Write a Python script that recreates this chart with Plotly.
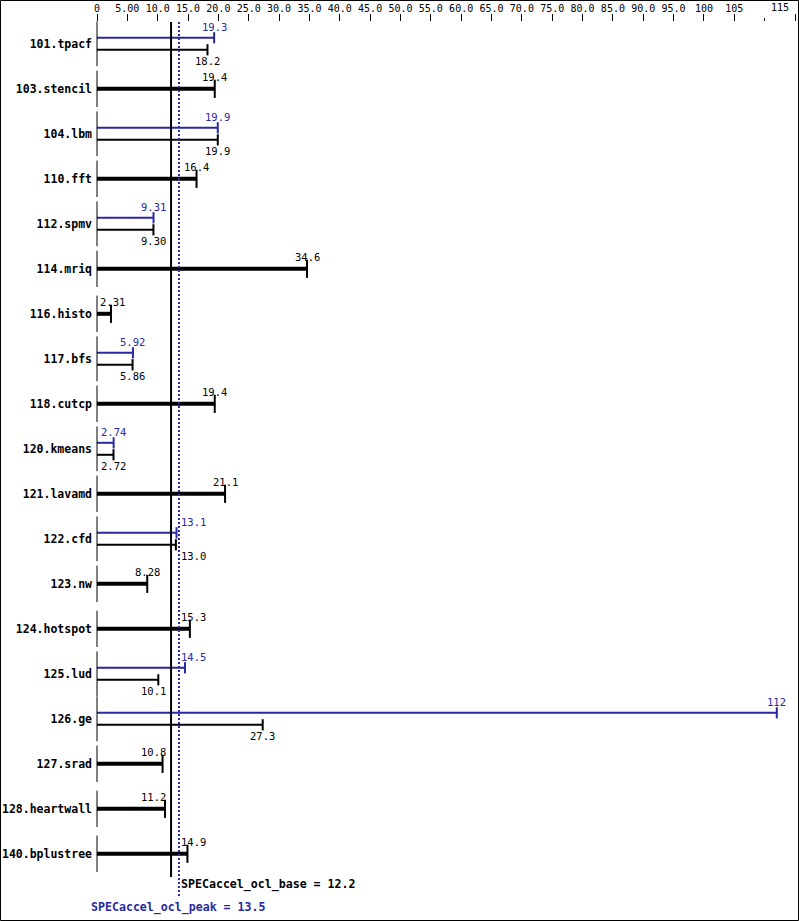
import plotly.graph_objects as go

# ---------------- data ----------------
benchmarks = ["101.tpacf", "103.stencil", "104.lbm", "110.fft", "112.spmv", "114.mriq",
              "116.histo", "117.bfs", "118.cutcp", "120.kmeans", "121.lavamd", "122.cfd",
              "123.nw", "124.hotspot", "125.lud", "126.ge", "127.srad", "128.heartwall",
              "140.bplustree"]
base_scores = [18.2, 19.4, 19.9, 16.4, 9.30, 34.6, 2.31, 5.86, 19.4, 2.72, 21.1, 13.0,
               8.28, 15.3, 10.1, 27.3, 10.8, 11.2, 14.9]
base_labels = ["18.2", "19.4", "19.9", "16.4", "9.30", "34.6", "2.31", "5.86", "19.4", "2.72",
               "21.1", "13.0", "8.28", "15.3", "10.1", "27.3", "10.8", "11.2", "14.9"]
peak_scores = [19.3, None, 19.9, None, 9.31, None, None, 5.92, None, 2.74, None, 13.1,
               None, None, 14.5, 112, None, None, None]
peak_labels = ["19.3", None, "19.9", None, "9.31", None, None, "5.92", None, "2.74", None,
               "13.1", None, None, "14.5", "112", None, None, None]
base_overall = 12.2
peak_overall = 13.5
base_overall_text = "SPECaccel_ocl_base = 12.2"
peak_overall_text = "SPECaccel_ocl_peak = 13.5"
tick_values = [0, 5, 10, 15, 20, 25, 30, 35, 40, 45, 50, 55, 60, 65, 70, 75, 80, 85,
               90, 95, 100, 105, 115]
tick_labels = ["0", "5.00", "10.0", "15.0", "20.0", "25.0", "30.0", "35.0", "40.0", "45.0",
               "50.0", "55.0", "60.0", "65.0", "70.0", "75.0", "80.0", "85.0", "90.0",
               "95.0", "100", "105", "115"]
minor_tick_values = [110]

# ---------------- layout constants ----------------
BLUE = "#2828a0"
BLACK = "#000000"
MONO = "DejaVu Sans Mono"
W, H = 799, 921
ML, MR, MT, MB = 97, 4, 22, 0
plot_w = W - ML - MR
plot_h = H - MT - MB
X_MAX = 115
px_per_unit = plot_w / X_MAX
ROW_PX = 45.0
FIRST_ROW_PX = 43.8           # pixel centre of first row from figure top
y_top = (MT - FIRST_ROW_PX) / ROW_PX
y_bot = (H - FIRST_ROW_PX) / ROW_PX
OFF = 6.0 / ROW_PX            # offset of peak/base bars in a two-bar row
THIN = 2.0 / ROW_PX
THICK = 4.0 / ROW_PX
VAL_SIZE = 10.5
CHAR_W = 0.602 * VAL_SIZE     # width of a mono glyph

n = len(benchmarks)
fig = go.Figure()

blue_y, blue_x = [], []
thin_y, thin_x = [], []
thick_y, thick_x = [], []
tick2_y, tick1_y = [], []
annotations = []


def label_anchor(v, text):
    w = len(text) * CHAR_W
    c = v * px_per_unit
    left, right = c - w / 2, c + w / 2
    bpx, ppx = base_overall * px_per_unit, peak_overall * px_per_unit
    if left < 2:
        return dict(x=0, xanchor="left", xshift=2)
    if right > bpx - 4 and left < ppx + 2:
        if v < base_overall:
            return dict(x=base_overall, xanchor="right", xshift=-4)
        return dict(x=peak_overall, xanchor="left", xshift=1)
    return dict(x=v, xanchor="center", xshift=0)


for i, name in enumerate(benchmarks):
    b = base_scores[i]
    p = peak_scores[i]
    if p is not None:
        blue_y.append(i - OFF); blue_x.append(p)
        thin_y.append(i + OFF); thin_x.append(b)
        tick2_y.append(i)
        annotations.append(dict(text=peak_labels[i], xref="x", yref="y", y=i - OFF,
                                yshift=11, yanchor="middle", showarrow=False,
                                font=dict(family=MONO, size=VAL_SIZE, color=BLUE), borderpad=0,
                                **label_anchor(p, peak_labels[i])))
        annotations.append(dict(text=base_labels[i], xref="x", yref="y", y=i + OFF,
                                yshift=-11, yanchor="middle", showarrow=False,
                                font=dict(family=MONO, size=VAL_SIZE, color=BLACK), borderpad=0,
                                **label_anchor(b, base_labels[i])))
    else:
        thick_y.append(i); thick_x.append(b)
        tick1_y.append(i)
        annotations.append(dict(text=base_labels[i], xref="x", yref="y", y=i,
                                yshift=12, yanchor="middle", showarrow=False,
                                font=dict(family=MONO, size=VAL_SIZE, color=BLACK), borderpad=0,
                                **label_anchor(b, base_labels[i])))

# bars
fig.add_trace(go.Bar(orientation="h", x=blue_x, y=blue_y, width=THIN, base=0,
                     marker=dict(color=BLUE, line=dict(width=0))))
fig.add_trace(go.Bar(orientation="h", x=thin_x, y=thin_y, width=THIN, base=0,
                     marker=dict(color=BLACK, line=dict(width=0))))
fig.add_trace(go.Bar(orientation="h", x=thick_x, y=thick_y, width=THICK, base=0,
                     marker=dict(color=BLACK, line=dict(width=0))))

# end caps
for xs, ys, col, size in [(blue_x, blue_y, BLUE, 8), (thin_x, thin_y, BLACK, 8),
                          (thick_x, thick_y, BLACK, 13)]:
    fig.add_trace(go.Scatter(x=xs, y=ys, mode="markers", cliponaxis=False,
                             marker=dict(symbol="line-ns", size=size,
                                         line=dict(width=2, color=col))))

# left axis row ticks
fig.add_trace(go.Scatter(x=[0] * len(tick2_y), y=tick2_y, mode="markers", cliponaxis=False,
                         marker=dict(symbol="line-ns", size=32, line=dict(width=1, color=BLACK))))
fig.add_trace(go.Scatter(x=[0] * len(tick1_y), y=tick1_y, mode="markers", cliponaxis=False,
                         marker=dict(symbol="line-ns", size=26, line=dict(width=1, color=BLACK))))

# overall reference lines
base_line_end = (877 - FIRST_ROW_PX) / ROW_PX
peak_line_end = (898 - FIRST_ROW_PX) / ROW_PX
shapes = [
    dict(type="line", xref="x", yref="y", x0=base_overall, x1=base_overall,
         y0=y_top, y1=base_line_end, line=dict(color=BLACK, width=2), layer="above"),
    dict(type="line", xref="x", yref="y", x0=peak_overall, x1=peak_overall,
         y0=y_top, y1=peak_line_end, line=dict(color=BLUE, width=2, dash="2px,2px"),
         layer="above"),
    dict(type="rect", xref="paper", yref="paper",
         x0=(0.5 - ML) / plot_w, x1=(W - 0.5 - ML) / plot_w,
         y0=(0.5 - MB) / plot_h, y1=(H - 0.5 - MB) / plot_h,
         line=dict(color=BLACK, width=1), fillcolor="rgba(0,0,0,0)", layer="above"),
]

annotations.append(dict(text="<b>" + base_overall_text + "</b>", xref="x", yref="y",
                        x=peak_overall, xanchor="left", xshift=1,
                        y=(884 - FIRST_ROW_PX) / ROW_PX, yanchor="middle", showarrow=False,
                        font=dict(family=MONO, size=11.6, color=BLACK), borderpad=0))
annotations.append(dict(text="<b>" + peak_overall_text + "</b>", xref="x", yref="y",
                        x=peak_overall, xanchor="center",
                        y=(907 - FIRST_ROW_PX) / ROW_PX, yanchor="middle", showarrow=False,
                        font=dict(family=MONO, size=11.6, color=BLUE), borderpad=0))

# last tick label is shifted left to stay inside the frame
main_ticktext = tick_labels[:-1] + [""]
annotations.append(dict(text=tick_labels[-1], xref="x", yref="paper", x=tick_values[-1],
                        xanchor="right", xshift=-5, y=1, yshift=15, yanchor="middle",
                        showarrow=False, font=dict(family=MONO, size=10, color=BLACK),
                        borderpad=0))

fig.update_layout(
    width=W, height=H,
    margin=dict(l=ML, r=MR, t=MT, b=MB, pad=0),
    paper_bgcolor="white", plot_bgcolor="white",
    showlegend=False, barmode="overlay", hovermode=False,
    shapes=shapes, annotations=annotations,
    xaxis=dict(range=[0, X_MAX], side="top", tickmode="array", tickvals=tick_values,
               ticktext=main_ticktext, ticks="outside", ticklen=7, tickwidth=1,
               ticklabelstandoff=-2,
               tickcolor=BLACK, tickfont=dict(family=MONO, size=10, color=BLACK),
               showgrid=False, zeroline=False, showline=False, automargin=False,
               minor=dict(tickmode="array", tickvals=minor_tick_values, ticks="outside",
                          ticklen=3, tickwidth=1, tickcolor=BLACK, showgrid=False)),
    yaxis=dict(range=[y_bot, y_top], tickmode="array", tickvals=list(range(n)),
               ticktext=["<b>" + b + "</b>" for b in benchmarks], ticks="",
               ticklabelstandoff=4,
               tickfont=dict(family=MONO, size=11.5, color=BLACK),
               showgrid=False, zeroline=False, showline=False, automargin=False),
)

fig.write_html("out.html", config={"displayModeBar": False},
               post_script="document.body.style.margin='0';"
                           "document.body.style.overflow='hidden';")
